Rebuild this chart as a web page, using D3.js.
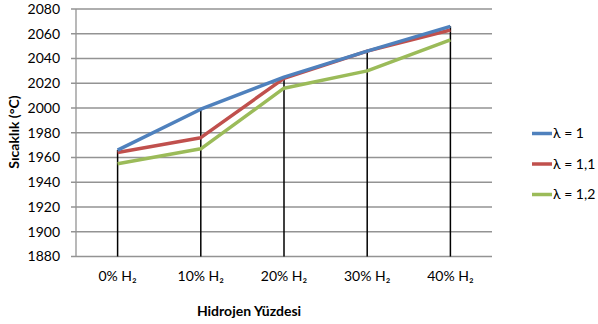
<!DOCTYPE html>
<html>
<head>
<meta charset="utf-8">
<script src="https://cdn.jsdelivr.net/npm/d3@7"></script>
<style>
  html, body { margin: 0; padding: 0; background: #fff; }
  svg { display: block; font-family: Lato, "Open Sans", sans-serif; }
</style>
</head>
<body>
<svg id="chart" width="598" height="324"></svg>
<script>
// Hydrogen share categories and flame temperatures for each excess-air ratio
const categories = ["0% H\u2082", "10% H\u2082", "20% H\u2082", "30% H\u2082", "40% H\u2082"];
const lambda1   = [1966, 1999, 2025, 2046, 2066];
const lambda11  = [1964, 1976, 2024, 2046, 2063];
const lambda12  = [1955, 1967, 2016, 2030, 2055];
const seriesNames = ["\u03bb = 1", "\u03bb = 1,1", "\u03bb = 1,2"];
const yTicks = [1880, 1900, 1920, 1940, 1960, 1980, 2000, 2020, 2040, 2060, 2080];

const colors = ["#4F81BD", "#C0504D", "#9BBB59"];
const series = [lambda1, lambda11, lambda12].map((v, i) => ({ name: seriesNames[i], values: v, color: colors[i] }));

const svg = d3.select("#chart");
const plotLeft = 76, plotRight = 492, plotTop = 9, plotBottom = 256.5;

const x = d3.scaleBand().domain(categories).range([plotLeft, plotRight]);
const y = d3.scaleLinear().domain([1880, 2080]).range([plotBottom, plotTop]);
const xc = c => x(c) + x.bandwidth() / 2;

// Horizontal gridlines with short tick stubs to the left
svg.append("g").selectAll("line").data(yTicks).join("line")
  .attr("x1", plotLeft - 5).attr("x2", plotRight)
  .attr("y1", d => y(d)).attr("y2", d => y(d))
  .attr("stroke", "#939393").attr("stroke-width", 1.3);

// Vertical value axis line
svg.append("line")
  .attr("x1", plotLeft).attr("x2", plotLeft).attr("y1", plotTop).attr("y2", plotBottom)
  .attr("stroke", "#939393").attr("stroke-width", 1.3);

// Y tick labels
svg.append("g").selectAll("text").data(yTicks).join("text")
  .attr("x", 60).attr("y", d => y(d)).attr("dy", "0.35em")
  .attr("text-anchor", "end").attr("font-size", 14).attr("fill", "#000")
  .text(d => d);

// Drop lines from the highest series value down to the base
svg.append("g").selectAll("line").data(categories).join("line")
  .attr("x1", d => xc(d)).attr("x2", d => xc(d))
  .attr("y1", (d, i) => y(d3.max(series, s => s.values[i])))
  .attr("y2", plotBottom)
  .attr("stroke", "#000").attr("stroke-width", 1.5);

// Series lines
const line = d3.line().x((d, i) => xc(categories[i])).y(d => y(d));
svg.append("g").selectAll("path").data(series.slice().reverse()).join("path")
  .attr("d", s => line(s.values))
  .attr("fill", "none").attr("stroke", s => s.color)
  .attr("stroke-width", 3.5).attr("stroke-linejoin", "round");

// Category labels
svg.append("g").selectAll("text").data(categories).join("text")
  .attr("x", d => xc(d)).attr("y", 281)
  .attr("text-anchor", "middle").attr("font-size", 14).attr("fill", "#000")
  .text(d => d);

// Axis titles
svg.append("text")
  .attr("x", 249).attr("y", 316)
  .attr("text-anchor", "middle").attr("font-size", 14).attr("font-weight", "bold")
  .text("Hidrojen Yüzdesi");

svg.append("text")
  .attr("transform", "translate(19,132) rotate(-90)")
  .attr("text-anchor", "middle").attr("font-size", 14).attr("font-weight", "bold")
  .text("Sıcaklık (°C)");

// Legend
const legend = svg.append("g").selectAll("g").data(series).join("g")
  .attr("transform", (d, i) => `translate(532,${133.5 + i * 30.5})`);
legend.append("line")
  .attr("x1", 0).attr("x2", 20).attr("y1", 0).attr("y2", 0)
  .attr("stroke", d => d.color).attr("stroke-width", 3.5);
legend.append("text")
  .attr("x", 21).attr("y", 0).attr("dy", "0.35em")
  .attr("font-size", 14).attr("fill", "#000")
  .text(d => d.name);
</script>
</body>
</html>
